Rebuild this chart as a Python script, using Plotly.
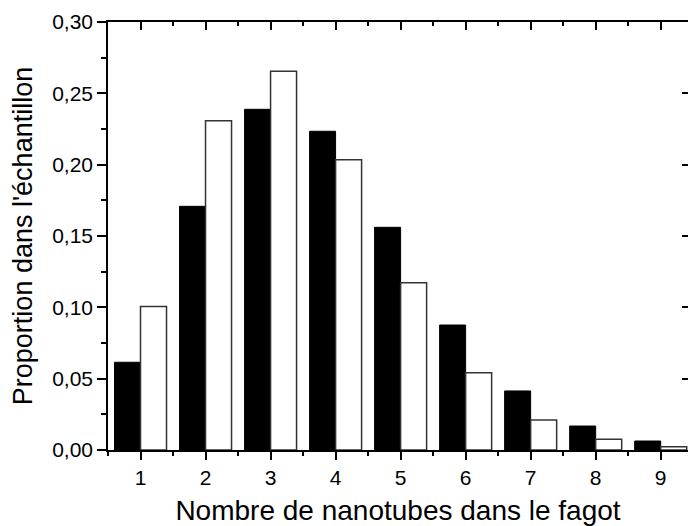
import plotly.graph_objects as go

categories = [1, 2, 3, 4, 5, 6, 7, 8, 9]
serie_noire = [0.0615, 0.1708, 0.2388, 0.2234, 0.1561, 0.0876, 0.0414, 0.0168, 0.0063]
serie_blanche = [0.1005, 0.2308, 0.2654, 0.2035, 0.1173, 0.0542, 0.0210, 0.0075, 0.0023]
y_ticks = [0.00, 0.05, 0.10, 0.15, 0.20, 0.25, 0.30]

FONT = "Liberation Sans, Arial, sans-serif"

fig = go.Figure()
fig.add_trace(go.Bar(x=categories, y=serie_noire, name="noir",
                     marker=dict(color="black", line=dict(color="black", width=1))))
fig.add_trace(go.Bar(x=categories, y=serie_blanche, name="blanc",
                     marker=dict(color="white", line=dict(color="#333333", width=1.5))))
# invisible trace to create the mirrored top/right axes
fig.add_trace(go.Scatter(x=[1], y=[0], xaxis="x2", yaxis="y2", mode="markers",
                         marker=dict(opacity=0), showlegend=False, hoverinfo="skip"))

xr = [0.5, 9.42]
yr = [0, 0.30]

fig.update_layout(
    width=688, height=526,
    margin=dict(l=108, r=0, t=22, b=76),
    paper_bgcolor="white", plot_bgcolor="white",
    showlegend=False,
    barmode="group", bargap=0.2, bargroupgap=0,
    separators=", ",
    font=dict(family=FONT, size=21, color="black"),
    xaxis=dict(range=xr, tickvals=categories, ticks="outside", ticklen=8, tickwidth=1.5,
               tickcolor="black", showline=True, linecolor="black", linewidth=1.5,
               showgrid=False, zeroline=False, automargin=False,
               minor=dict(tick0=0.5, dtick=0.5, ticks="outside", ticklen=4, tickwidth=1.5, tickcolor="black"),
               tickfont=dict(size=21),
               title=dict(text="Nombre de nanotubes dans le fagot", font=dict(size=28), standoff=12)),
    yaxis=dict(range=yr, tickvals=y_ticks, tickformat=".2f", ticks="outside", ticklen=9, tickwidth=1.5,
               tickcolor="black", showline=True, linecolor="black", linewidth=1.5,
               showgrid=False, zeroline=False, automargin=False,
               minor=dict(tick0=0, dtick=0.025, ticks="outside", ticklen=5, tickwidth=1.5, tickcolor="black"),
               tickfont=dict(size=21),
               title=dict(text="Proportion dans l'échantillon", font=dict(size=27), standoff=12)),
    xaxis2=dict(range=xr, overlaying="x", side="top", anchor="y2", tickvals=categories, ticks="inside", ticklen=8,
                tickwidth=1.5, tickcolor="black", showline=True, linecolor="black", linewidth=1.5,
                showticklabels=False, showgrid=False, zeroline=False, automargin=False,
                minor=dict(tick0=0.5, dtick=0.5, ticks="inside", ticklen=4, tickwidth=1.5, tickcolor="black")),
    yaxis2=dict(range=yr, overlaying="y", side="right", anchor="x2", tickvals=y_ticks, ticks="inside", ticklen=6,
                tickwidth=1.5, tickcolor="black", showline=False, showticklabels=False,
                showgrid=False, zeroline=False, automargin=False),
)

fig.write_html("out.html", config={"displayModeBar": False},
               post_script="document.body.style.margin='0';")
